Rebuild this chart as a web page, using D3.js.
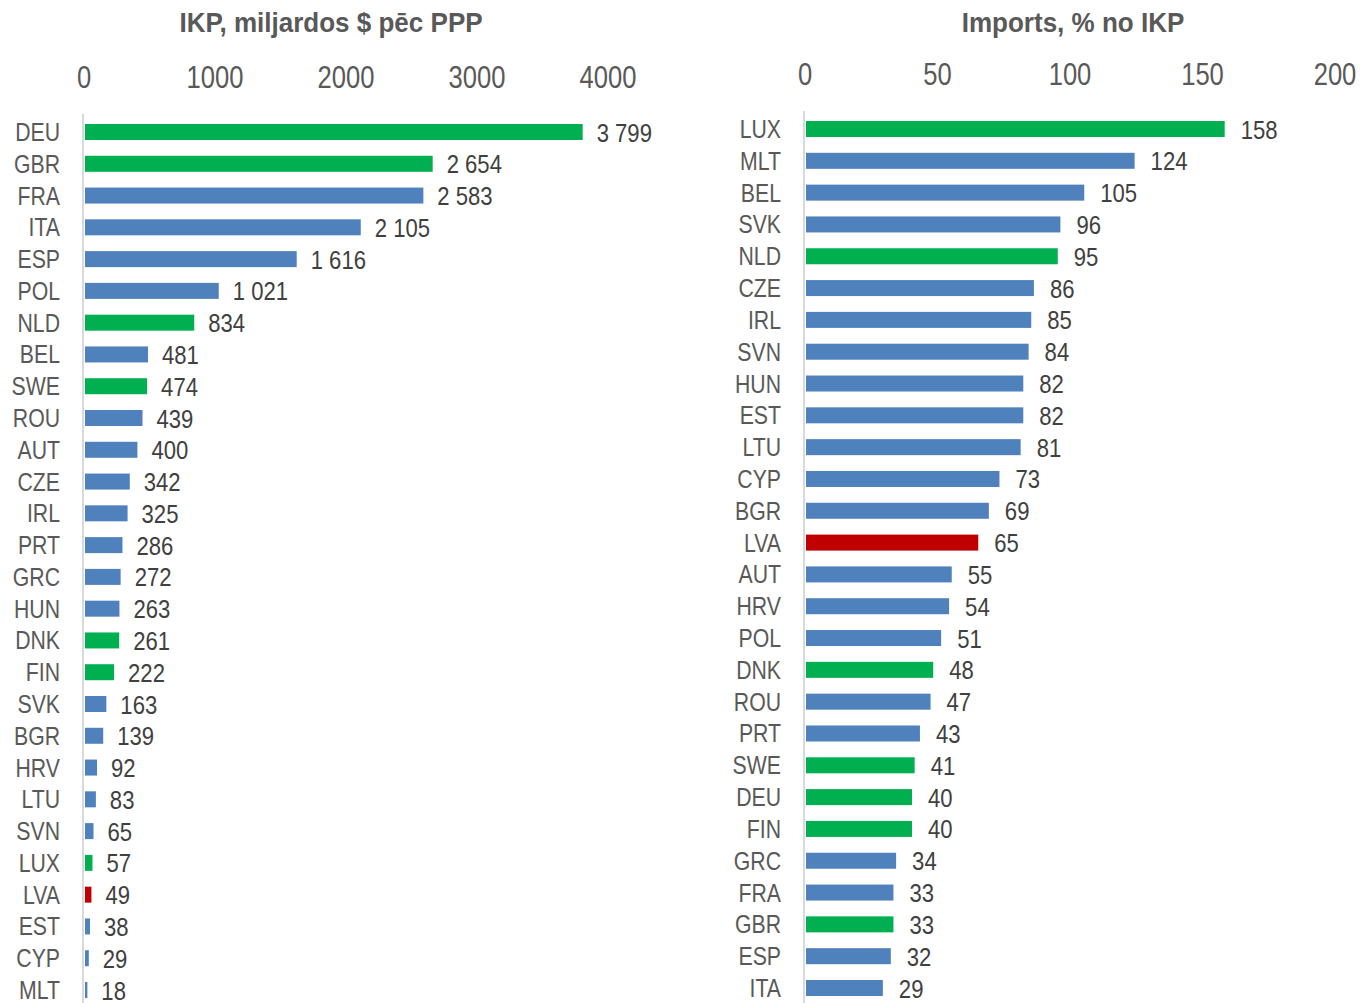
<!DOCTYPE html>
<html>
<head>
<meta charset="utf-8">
<script src="https://cdn.jsdelivr.net/npm/d3@7"></script>
<style>
  body { margin: 0; background: #fff; }
  text { font-family: "Liberation Sans", Arial, sans-serif; }
</style>
</head>
<body>
<svg id="chart" width="1360" height="1003"></svg>
<script>
// left panel: GDP, bn $ PPP
const gdpCountries = ["DEU","GBR","FRA","ITA","ESP","POL","NLD","BEL","SWE","ROU","AUT","CZE","IRL","PRT","GRC","HUN","DNK","FIN","SVK","BGR","HRV","LTU","SVN","LUX","LVA","EST","CYP","MLT"];
const gdpValues = [3799,2654,2583,2105,1616,1021,834,481,474,439,400,342,325,286,272,263,261,222,163,139,92,83,65,57,49,38,29,18];
const gdpTicks = [0,1000,2000,3000,4000];

// right panel: imports, % of GDP
const impCountries = ["LUX","MLT","BEL","SVK","NLD","CZE","IRL","SVN","HUN","EST","LTU","CYP","BGR","LVA","AUT","HRV","POL","DNK","ROU","PRT","SWE","DEU","FIN","GRC","FRA","GBR","ESP","ITA"];
const impValues = [158,124,105,96,95,86,85,84,82,82,81,73,69,65,55,54,51,48,47,43,41,40,40,34,33,33,32,29];
const impTicks = [0,50,100,150,200];

const greenSet = ["DEU","GBR","NLD","SWE","DNK","FIN","LUX"];
const redSet = ["LVA"];

const colorOf = c => redSet.includes(c) ? "#C00000" : greenSet.includes(c) ? "#00B050" : "#4F81BD";

const fmt = d3.formatLocale({decimal: ",", thousands: " ", grouping: [3], currency: ["", ""]}).format(",d");

const svg = d3.select("#chart");

// text squeezed horizontally to look like Arial Narrow
function txt(g, x, y, s, opts) {
  return g.append("text")
    .attr("transform", "translate(" + x + "," + y + ") scale(" + (opts.sx || 0.84) + ",1)")
    .attr("text-anchor", opts.anchor || "start")
    .attr("font-size", opts.size + "px")
    .attr("font-weight", opts.bold ? "bold" : "normal")
    .attr("fill", opts.fill || "#595959")
    .text(s);
}

function panel(cfg) {
  const g = svg.append("g");
  const x = d3.scaleLinear().domain(cfg.domain).range(cfg.xr);
  const y = d3.scalePoint().domain(cfg.cats).range(cfg.yr);

  txt(g, cfg.titleX, 32, cfg.title, {size: 28, bold: true, anchor: "middle", sx: 0.93});

  cfg.ticks.forEach(t => txt(g, x(t) - 1, cfg.tickY, t, {size: 32, anchor: "middle", sx: 0.8}));

  g.append("line")
    .attr("x1", x(0) - 2).attr("x2", x(0) - 2)
    .attr("y1", cfg.yr[0] - 18).attr("y2", 1003)
    .attr("stroke", "#d9d9d9").attr("stroke-width", 2);

  cfg.cats.forEach((c, i) => {
    const v = cfg.values[i];
    const cy = y(c);
    g.append("rect")
      .attr("x", x(0)).attr("y", cy - 8)
      .attr("width", x(v) - x(0)).attr("height", 16)
      .attr("fill", colorOf(c));
    txt(g, x(0) - 25, cy + 9, c, {size: 25, anchor: "end", sx: 0.85});
    txt(g, x(v) + cfg.gap, cy + 9.5, cfg.fmt(v), {size: 26, fill: "#404040", sx: 0.85});
  });
}

panel({
  cats: gdpCountries, values: gdpValues, ticks: gdpTicks,
  domain: [0, 4000], xr: [85, 609], yr: [132, 990],
  title: "IKP, miljardos $ pēc PPP", titleX: 331, tickY: 88, fmt: fmt, gap: 14
});

panel({
  cats: impCountries, values: impValues, ticks: impTicks,
  domain: [0, 200], xr: [806, 1336], yr: [129, 988],
  title: "Imports, % no IKP", titleX: 1073, tickY: 85, fmt: d => d, gap: 16
});
</script>
</body>
</html>
